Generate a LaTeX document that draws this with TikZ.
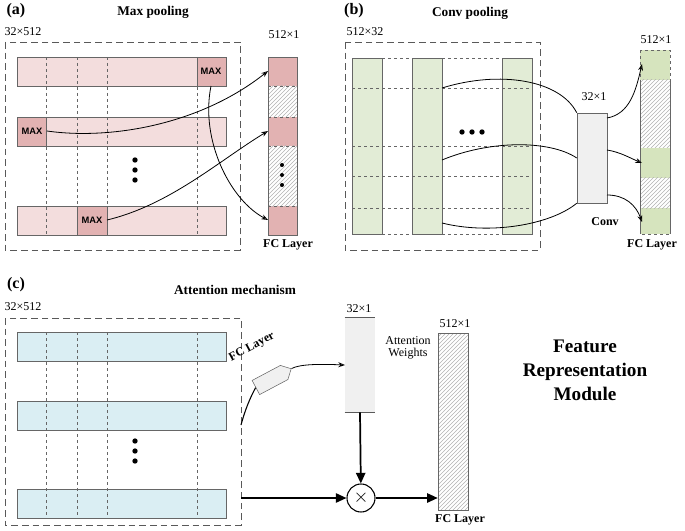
\documentclass[tikz,border=0pt]{standalone}
\usepackage{fontspec}
\setmainfont{Liberation Serif}
\newfontfamily\sansf{Liberation Sans}
\usetikzlibrary{patterns,shapes.symbols,arrows.meta}
\definecolor{redf}{RGB}{243,221,221}
\definecolor{redm}{RGB}{226,178,178}
\definecolor{grnf}{RGB}{226,236,214}
\definecolor{grnm}{RGB}{214,228,190}
\definecolor{bluf}{RGB}{218,238,243}
\definecolor{gryf}{RGB}{240,240,240}
\tikzset{
 box/.style={draw=gray!70!black,dashed,dash pattern=on 5pt off 3pt,line width=0.6pt},
 row/.style={draw=gray!80!black,line width=0.4pt},
 dv/.style={draw=gray!80!black,dashed,dash pattern=on 2.5pt off 2pt,line width=0.4pt},
 hatch/.style={pattern=north east lines,pattern color=gray!60,draw=gray!80!black,line width=0.4pt},
 lab/.style={font=\small},
 blab/.style={font=\bfseries\small},
 tlab/.style={font=\bfseries},
 cur/.style={->,>={Stealth[length=5pt,open]},line width=0.6pt},
 dot/.style={circle,fill=black,inner sep=0pt,minimum size=4pt},
 maxn/.style={font=\sansf\bfseries\scriptsize,inner sep=0pt},
 thick arr/.style={-{Triangle[length=8pt,width=7pt]},line width=1.3pt}
}
\begin{document}
\begin{tikzpicture}[x=0.75pt,y=-0.75pt]
\useasboundingbox (0,0) rectangle (685,531);
% ---------- (a)
\node[font=\bfseries\large] (la) at (16,11) {(a)};
\node[tlab] (ta) at (153,12) {Max pooling};
\node[lab] (sa) at (23,32) {32×512};
\draw[box] (5,42) rectangle (240,250);
\foreach \y in {57,117,206}{\fill[redf] (17,\y) rectangle (226,\y+29);}
\fill[redm] (197,57) rectangle (226,86);
\fill[redm] (17,117) rectangle (46,146);
\fill[redm] (77,206) rectangle (107,235);
\foreach \x in {46,77,107,197}{\draw[dv] (\x,57) -- (\x,235);}
\foreach \y in {57,117,206}{\draw[row] (17,\y) rectangle (226,\y+29);}
\draw[row] (197,57) rectangle (226,86);
\draw[row] (17,117) rectangle (46,146);
\draw[row] (77,206) rectangle (107,235);
\node[maxn] (m1) at (211,71) {MAX};
\node[maxn] (m2) at (32,131) {MAX};
\node[maxn] (m3) at (92,220) {MAX};
\node[dot] (da1) at (135,160) {};\node[dot] (da2) at (135,170) {};\node[dot] (da3) at (135,180) {};
% FC column
\fill[redm] (268,57) rectangle (297,86);
\fill[redm] (268,117) rectangle (297,146);
\fill[redm] (268,206) rectangle (297,235);
\path[hatch,draw=none] (268,86) rectangle (297,117);
\path[hatch,draw=none] (268,146) rectangle (297,206);
\draw[row] (268,57) rectangle (297,235);
\foreach \y in {86,117,146,206}{\draw[dv] (268,\y) -- (297,\y);}
\coordinate (fa1) at (268,71);\coordinate (fa2) at (268,131);\coordinate (fa3) at (268,220);
\node[dot,minimum size=3pt] (db1) at (282,165) {};\node[dot,minimum size=3pt] (db2) at (282,175) {};\node[dot,minimum size=3pt] (db3) at (282,185) {};
\node[lab] (sa2) at (284,35) {512×1};
\node[blab] (fca) at (288,245) {FC Layer};
\coordinate (m1s) at (211,86);\coordinate (m3e) at (107,220);\coordinate (m2e) at (47,131);
\draw[cur] (m2e) .. controls (110,140) and (200,125) .. (fa1);
\draw[cur] (m3e) .. controls (170,205) and (220,160) .. (fa2);
\draw[cur] (m1s) .. controls (200,140) and (230,200) .. (fa3);
% ---------- (b)
\node[font=\bfseries\large] (lb) at (354,11) {(b)};
\node[tlab] (tb) at (470,13) {Conv pooling};
\node[lab] (sb) at (365,32) {512×32};
\draw[box] (345,42) rectangle (540,250);
\foreach \x in {352,412,502}{\fill[grnf] (\x,58) rectangle (\x+30,234);}
\foreach \y in {58,234}{\draw[dv] (352,\y) -- (532,\y);}
\foreach \y in {88,146,176,208}{\draw[dv] (352,\y) -- (532,\y);}
\foreach \x in {352,412,502}{\draw[row] (\x,58) rectangle (\x+30,234);}
\node[dot] (dc1) at (462,132) {};\node[dot] (dc2) at (472,132) {};\node[dot] (dc3) at (482,132) {};
\node[draw=gray!80!black,fill=gryf,minimum width=22.5pt,minimum height=67.5pt,inner sep=0pt] (conv) at (592,158) {};
\node[lab] (s32b) at (594,97) {32×1};
\node[blab] (cvl) at (605,222) {Conv};
\fill[grnm] (640,50) rectangle (670,80);
\fill[grnm] (640,148) rectangle (670,178);
\fill[grnm] (640,208) rectangle (670,234);
\path[hatch,draw=none] (640,80) rectangle (670,148);
\path[hatch,draw=none] (640,178) rectangle (670,208);
\draw[dv] (640,50) rectangle (670,234);
\draw[row] (640,80) -- (640,234) (670,80) -- (670,234);
\node[lab] (sb2) at (656,40) {512×1};
\node[blab] (fcb) at (652,245) {FC Layer};
\draw[line width=0.6pt] (442,88) .. controls (500,70) and (560,80) .. (conv.north west);
\draw[line width=0.6pt] (442,160) .. controls (490,140) and (550,140) .. (conv.west);
\draw[line width=0.6pt] (442,223) .. controls (490,235) and (550,225) .. (conv.south west);
\coordinate (ob1) at (642,64);\coordinate (ob2) at (642,163);\coordinate (ob3) at (642,222);
\draw[cur] (607,118) .. controls (630,114) and (636,90) .. (ob1);
\draw[cur] (607,150) .. controls (620,152) and (630,158) .. (ob2);
\draw[cur] (607,195) .. controls (625,195) and (636,205) .. (ob3);
% ---------- (c)
\node[font=\bfseries\large] (lc) at (16,285) {(c)};
\node[tlab] (tc) at (235,290) {Attention mechanism};
\node[lab] (sc) at (23,307) {32×512};
\draw[box] (5,318) rectangle (241,525);
\foreach \y in {332,401,489}{\fill[bluf] (17,\y) rectangle (226,\y+29);}
\foreach \x in {46,77,107,197}{\draw[dv] (\x,332) -- (\x,518);}
\foreach \y in {332,401,489}{\draw[row] (17,\y) rectangle (226,\y+29);}
\node[dot] (dd1) at (135,441) {};\node[dot] (dd2) at (135,451) {};\node[dot] (dd3) at (135,461) {};
\node[shape=signal,signal to=east,draw=gray!80!black,fill=gryf,minimum width=30pt,minimum height=12pt,rotate=28] (fcs) at (270,380) {};
\node[blab,rotate=28] (fcl) at (252,347) {FC Layer};
\node[fill=gryf,minimum width=22.5pt,minimum height=70.5pt,inner sep=0pt] (att) at (360,365) {};
\draw[gray!70!black,line width=0.6pt] (att.north west) -- (att.north east) (att.south west) -- (att.south east);
\node[lab] (s32c) at (359,309) {32×1};
\node[lab,align=center] (awl) at (408,348) {Attention\\[-2pt]Weights};
\node[draw,circle,line width=0.8pt,minimum size=21pt,inner sep=0pt,font=\Large] (ot) at (361,498) {$\times$};
\path[hatch] (438,333) rectangle (468,510);
\node[inner sep=0pt,minimum width=22.5pt,minimum height=132.75pt] (out) at (453,421.5) {};
\node[lab] (s512c) at (455,324) {512×1};
\node[blab] (fcc) at (460,520) {FC Layer};
\coordinate (cs) at (241,425);\coordinate (ci) at (241,498);\coordinate (ae) at (345,365);
\draw[line width=0.8pt] (cs) .. controls (245,410) and (250,398) .. (fcs.west);
\draw[cur] (fcs.east) .. controls (300,364) and (320,364) .. (ae);
\draw[thick arr] (att.south) -- (ot);
\draw[thick arr] (ci) -- (ot);
\draw[thick arr] (ot) -- (out.south west |- ot);
\node[font=\bfseries\Large,align=center] (frm) at (585,370) {Feature\\Representation\\Module};
\end{tikzpicture}
\end{document}
